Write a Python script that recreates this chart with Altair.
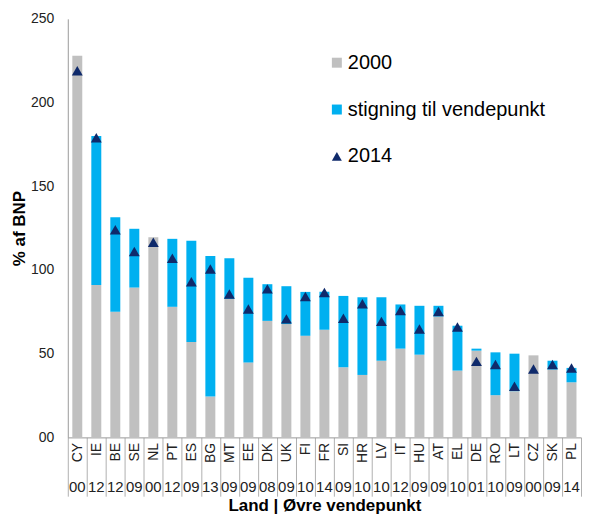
import altair as alt
import pandas as pd

countries = ["CY","IE","BE","SE","NL","PT","ES","BG","MT","EE","DK","UK","FI","FR",
             "SI","HR","LV","IT","HU","AT","EL","DE","RO","LT","CZ","SK","PL"]
years = ["00","12","12","09","00","12","09","13","09","09","08","09","10","14",
         "09","10","10","12","09","09","10","01","10","09","00","09","14"]
v2000 = [228, 91, 75, 89.5, 119.6, 78, 57, 24.4, 82.7, 44.8, 69.6, 67.7, 60.7, 64.3,
         41.9, 37.3, 45.8, 53, 49.4, 72.2, 39.9, 51.8, 25.2, 27.6, 49, 40.5, 32.9]
peak = [228, 180, 131.5, 124.6, 119.6, 118.6, 117.4, 108.3, 107, 95.4, 91.5, 90.3, 86.9, 87,
        84.5, 83.7, 83.7, 79.4, 78.6, 78.6, 66.7, 53, 50.8, 50, 49, 45.8, 41.5]
v2014 = [219, 179, 124, 111, 116.5, 107, 93, 100.6, 85.7, 76.7, 88.7, 70.8, 84.1, 86.5,
         71.2, 79.8, 69.3, 75.8, 64.7, 75.2, 65.9, 45.4, 43.5, 30.6, 40.9, 43.5, 41.5]

series = ["2000", "stigning til vendepunkt", "2014"]
colors = ["#c0c0c0", "#00b0f0", "#0f2a6b"]
shapes = ["square", "square", "triangle-up"]

rows = []
for c, a, p in zip(countries, v2000, peak):
    rows.append({"land": c, "serie": series[0], "lo": 0, "hi": a})
    rows.append({"land": c, "serie": series[1], "lo": a, "hi": p})
bars_df = pd.DataFrame(rows)
pts_df = pd.DataFrame({"land": countries, "serie": series[2], "v": v2014})
yr_df = pd.DataFrame({"land": countries, "aar": years})

W, H = 515, 420
FONT = "Liberation Sans"

xenc = alt.X("land:N", sort=countries, scale=alt.Scale(paddingInner=0.0, paddingOuter=0.0),
             axis=alt.Axis(title="Land | Øvre vendepunkt", titleFontSize=17, titleFontWeight="bold",
                           titleColor="#000000", titlePadding=1, titleFont=FONT,
                           labelAngle=270, labelAlign="right", labelBaseline="middle",
                           labelFontSize=14, labelFont=FONT, labelColor="#222222",
                           labelPadding=-54, tickBand="extent", tickSize=59,
                           tickColor="#b0b0b0", domainColor="#9a9a9a"))

leg = alt.Legend(title=None, orient="none", legendX=260, legendY=34, labelFontSize=20,
                 labelFont=FONT, labelColor="#000000", symbolSize=100, rowPadding=27,
                 labelOffset=1, labelLimit=400, symbolStrokeWidth=0)

color = alt.Color("serie:N", scale=alt.Scale(domain=series, range=colors), legend=leg)
shape = alt.Shape("serie:N", scale=alt.Scale(domain=series, range=shapes), legend=leg)

yscale = alt.Scale(domain=[0, 250], nice=False)
yaxis = alt.Axis(title="% af BNP", titleFontSize=17, titleFontWeight="bold", titleColor="#000000",
                 titleFont=FONT, titlePadding=2, values=[0, 50, 100, 150, 200, 250],
                 labelExpr="datum.value == 0 ? '00' : datum.label", labelFontSize=14,
                 labelFont=FONT, labelColor="#222222", ticks=False, labelPadding=14,
                 grid=False, domainColor="#9a9a9a")

bars = alt.Chart(bars_df).mark_bar(size=10).encode(
    x=xenc,
    y=alt.Y("lo:Q", scale=yscale, axis=yaxis),
    y2="hi:Q",
    color=color,
)

pts = alt.Chart(pts_df).mark_point(filled=True, size=120, opacity=1).encode(
    x=alt.X("land:N", sort=countries),
    y=alt.Y("v:Q", scale=yscale),
    color=color,
    shape=shape,
)

yrs = alt.Chart(yr_df).mark_text(fontSize=15, font=FONT, baseline="middle", color="#222222").encode(
    x=alt.X("land:N", sort=countries),
    y=alt.value(H + 50),
    text="aar:N",
)

chart = alt.layer(bars, pts, yrs).properties(
    width=W, height=H,
    padding={"left": 2, "top": 3, "right": 0, "bottom": 0},
).configure_view(stroke=None)

chart.save("out.html", embed_options={"renderer": "svg", "actions": False})
